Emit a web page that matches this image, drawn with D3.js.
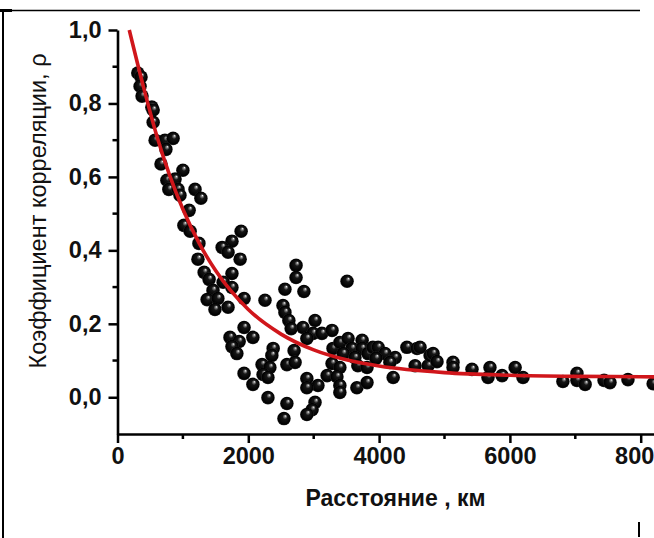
<!DOCTYPE html>
<html>
<head>
<meta charset="utf-8">
<script src="https://cdn.jsdelivr.net/npm/d3@7"></script>
<style>
  html, body { margin: 0; padding: 0; background: #fff; }
  svg { display: block; }
  text { font-family: "Liberation Sans", Arial, sans-serif; fill: #111; }
</style>
</head>
<body>
<div id="chart"></div>
<script>
// Observed correlation coefficient vs. distance between stations
const distanceKm = [
  310, 360, 345, 375, 525, 545, 545, 575, 725, 850, 740, 665, 1000, 755, 880, 785,
  925, 955, 1185, 1275, 1095, 1015, 1110, 1890, 1750, 1245, 1600, 1690, 1875, 1230,
  1325, 1400, 1750, 1615, 1750, 1460, 1370, 1535, 1490, 1690, 1935, 2255, 2560, 2730,
  2730, 2850, 3510, 2530, 2560, 2620, 2655, 1935, 1720, 1860, 2070, 1750, 1825, 2380,
  2360, 2700, 2210, 2330, 2590, 2715, 2225, 2300, 1935, 2070, 2300, 2590, 2545, 2835,
  3020, 2990, 3125, 3280, 2895, 3295, 3400, 3525, 3740, 3585, 3740, 3450, 3630, 3280,
  3400, 3830, 3905, 3985, 4090, 4245, 3675, 3815, 4165, 4425, 4580, 4550, 4750, 4780,
  4215, 3205, 3355, 3400, 3400, 3660, 3815, 2895, 3065, 2895, 3020, 2975, 2895, 4625,
  4825, 4885, 5130, 5130, 5420, 5695, 5665, 5880, 6080, 6200, 6810, 7025, 7025, 7150,
  7440, 7530, 7805, 8190, 3950
];
const rho = [
  0.883, 0.872, 0.847, 0.820, 0.790, 0.782, 0.749, 0.700, 0.700, 0.705, 0.675, 0.635, 0.618, 0.591, 0.594, 0.566,
  0.566, 0.550, 0.566, 0.542, 0.509, 0.468, 0.452, 0.452, 0.425, 0.419, 0.408, 0.395, 0.376, 0.376,
  0.340, 0.321, 0.337, 0.313, 0.299, 0.291, 0.266, 0.269, 0.239, 0.245, 0.269, 0.264, 0.294, 0.359,
  0.326, 0.288, 0.316, 0.250, 0.231, 0.209, 0.187, 0.190, 0.163, 0.152, 0.163, 0.138, 0.119, 0.133,
  0.114, 0.127, 0.089, 0.081, 0.089, 0.095, 0.062, 0.054, 0.065, 0.035, -0.001, -0.017, -0.058, 0.190,
  0.209, 0.174, 0.174, 0.182, 0.160, 0.133, 0.149, 0.160, 0.155, 0.133, 0.133, 0.119, 0.108, 0.092,
  0.081, 0.119, 0.136, 0.136, 0.119, 0.108, 0.086, 0.081, 0.095, 0.136, 0.133, 0.086, 0.086, 0.114,
  0.054, 0.059, 0.056, 0.032, 0.013, 0.026, 0.040, 0.051, 0.032, 0.026, -0.014, -0.034, -0.047, 0.136,
  0.119, 0.097, 0.095, 0.081, 0.076, 0.081, 0.054, 0.059, 0.081, 0.054, 0.043, 0.065, 0.046, 0.035,
  0.046, 0.040, 0.048, 0.037, 0.106
];

// Fitted curve
const fitKm = [180, 400, 600, 800, 1000, 1250, 1500, 2000, 2500, 3000, 3500, 4000, 5000, 6000, 7000, 8000, 8600];
const fitRho = [1.0, 0.843, 0.712, 0.603, 0.512, 0.419, 0.345, 0.239, 0.172, 0.129, 0.102, 0.085, 0.067, 0.060, 0.057, 0.056, 0.055];

const xMajor = [0, 2000, 4000, 6000, 8000];
const xMinor = [1000, 3000, 5000, 7000];
const yMajor = [0.0, 0.2, 0.4, 0.6, 0.8, 1.0];
const yMinor = [0.1, 0.3, 0.5, 0.7, 0.9];

const xTitle = "Расстояние , км";
const yTitle = "Коэффициент корреляции, ρ";

const W = 654, H = 538;
const plotLeft = 117.5, plotTop = 30, plotBottom = 434;

const x = d3.scaleLinear().domain([0, 8500]).range([plotLeft, plotLeft + 0.0654 * 8500]);
const y = d3.scaleLinear().domain([-0.1, 1.0]).range([plotBottom, plotTop]);

const svg = d3.select("#chart").append("svg")
  .attr("width", W)
  .attr("height", H);

svg.append("rect").attr("width", W).attr("height", H).attr("fill", "#fff");

// page frame bits
svg.append("line").attr("x1", 0).attr("x2", 640).attr("y1", 10.5).attr("y2", 10.5)
  .attr("stroke", "#000").attr("stroke-width", 1.5);
svg.append("line").attr("x1", 3).attr("x2", 3).attr("y1", 10).attr("y2", H)
  .attr("stroke", "#000").attr("stroke-width", 2);
svg.append("rect").attr("x", 0).attr("y", 9).attr("width", 12).attr("height", 3).attr("fill", "#000");
svg.append("line").attr("x1", 639).attr("x2", 639).attr("y1", 522).attr("y2", 537)
  .attr("stroke", "#000").attr("stroke-width", 2);

// sphere shading
const defs = svg.append("defs");
const grad = defs.append("radialGradient")
  .attr("id", "ball")
  .attr("cx", "50%").attr("cy", "50%").attr("r", "50%")
  .attr("fx", "62%").attr("fy", "30%");
grad.append("stop").attr("offset", "0%").attr("stop-color", "#fff");
grad.append("stop").attr("offset", "13%").attr("stop-color", "#8a8a8a");
grad.append("stop").attr("offset", "36%").attr("stop-color", "#161616");
grad.append("stop").attr("offset", "88%").attr("stop-color", "#000");
grad.append("stop").attr("offset", "100%").attr("stop-color", "#262626");

const points = distanceKm.map((d, i) => ({ km: d, r: rho[i] }));

svg.append("g")
  .attr("class", "points")
  .selectAll("circle")
  .data(points)
  .join("circle")
  .attr("cx", (d) => x(d.km))
  .attr("cy", (d) => y(d.r))
  .attr("r", 6.8)
  .attr("fill", "url(#ball)");

// fit line
const fit = fitKm.map((d, i) => ({ km: d, r: fitRho[i] }));
svg.append("path")
  .datum(fit)
  .attr("fill", "none")
  .attr("stroke", "#d0161b")
  .attr("stroke-width", 3.6)
  .attr("d", d3.line().x((d) => x(d.km)).y((d) => y(d.r)).curve(d3.curveMonotoneX));

// axes
const xAxis = svg.append("g")
  .attr("class", "x-axis")
  .attr("transform", "translate(0," + plotBottom + ")");
xAxis.call(d3.axisBottom(x).tickValues(xMajor).tickSize(9).tickPadding(4).tickSizeOuter(0).tickFormat(d3.format("d")));
xAxis.append("g").selectAll("line")
  .data(xMinor)
  .join("line")
  .attr("x1", (d) => x(d)).attr("x2", (d) => x(d))
  .attr("y1", 0).attr("y2", 5)
  .attr("stroke", "#000").attr("stroke-width", 2.5);

const yAxis = svg.append("g")
  .attr("class", "y-axis")
  .attr("transform", "translate(" + plotLeft + ",0)");
yAxis.call(d3.axisLeft(y).tickValues(yMajor).tickSize(9).tickPadding(7).tickSizeOuter(0)
  .tickFormat((d) => d3.format(".1f")(d).replace(".", ",")));
yAxis.append("g").selectAll("line")
  .data(yMinor)
  .join("line")
  .attr("y1", (d) => y(d)).attr("y2", (d) => y(d))
  .attr("x1", 0).attr("x2", -5)
  .attr("stroke", "#000").attr("stroke-width", 2.5);

svg.selectAll(".x-axis .domain, .y-axis .domain")
  .attr("stroke", "#000")
  .attr("stroke-width", 2.6);
svg.selectAll(".x-axis .tick line, .y-axis .tick line")
  .attr("stroke", "#000")
  .attr("stroke-width", 2.5);
svg.selectAll(".x-axis text, .y-axis text")
  .style("font-size", "23.5px")
  .style("font-weight", "bold")
  .attr("fill", "#111");

// axis titles
svg.append("text")
  .attr("x", (x.range()[0] + x.range()[1]) / 2)
  .attr("y", 506)
  .attr("text-anchor", "middle")
  .style("font-size", "23px")
  .style("font-weight", "bold")
  .text(xTitle);

svg.append("text")
  .attr("transform", "translate(46,211) rotate(-90)")
  .attr("text-anchor", "middle")
  .style("font-size", "23.5px")
  .text(yTitle);
</script>
</body>
</html>
